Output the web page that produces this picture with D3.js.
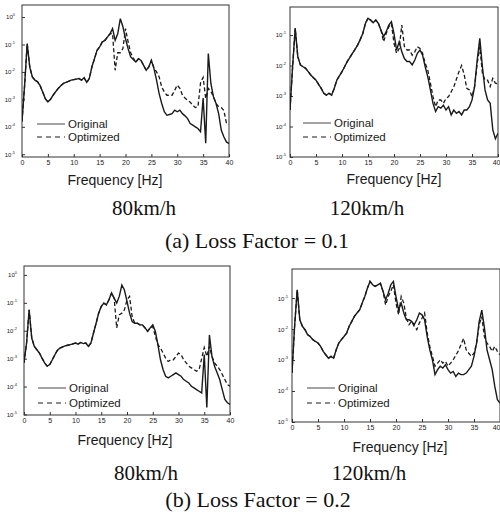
<!DOCTYPE html>
<html>
<head>
<meta charset="utf-8">
<script src="https://cdn.jsdelivr.net/npm/d3@7"></script>
<style>
  body { margin: 0; background: #fff; }
  svg { display: block; }
</style>
</head>
<body>
<div id="chart"></div>
<script>
// frequency grid [Hz], shared by all four panels
var freq = [0,0.5,1,1.5,2,2.5,3,3.5,4,4.5,5,5.5,6,6.5,7,7.5,8,8.5,9,9.5,
  10,10.5,11,11.5,12,12.5,13,13.5,14,14.5,15,15.5,16,16.5,17,17.5,18,18.5,19,19.5,
  20,20.5,21,21.5,22,22.5,23,23.5,24,24.5,25,25.5,26,26.5,27,27.5,28,28.5,29,29.5,
  30,30.5,31,31.5,32,32.5,33,33.5,34,34.5,35,35.5,36,36.5,37,37.5,38,38.5,39,39.5,40];
var xTicks = [0,5,10,15,20,25,30,35,40];

// response levels, log10 of amplitude
// (a) loss factor 0.1, 80km/h
var orig80a = [-3.8,-2.5,-0.97,-1.82,-2.18,-2.3,-2.36,-2.5,-2.73,-2.97,-3.09,-3.0,-2.85,-2.72,-2.6,-2.5,-2.42,-2.38,-2.34,-2.3,
  -2.28,-2.26,-2.24,-2.3,-2.21,-2.38,-2.24,-1.82,-1.52,-1.21,-1.09,-0.91,-0.85,-0.73,-0.61,-0.42,-0.85,-0.61,-0.06,-0.35,
  -0.79,-1.15,-1.45,-1.55,-1.64,-1.52,-1.58,-1.76,-1.94,-1.82,-1.58,-1.88,-2.3,-2.79,-3.15,-3.45,-3.58,-3.55,-3.52,-3.39,
  -3.45,-3.39,-3.52,-3.6,-3.7,-3.88,-3.94,-4.0,-4.06,-4.18,-2.95,-4.6,-1.33,-2.42,-2.91,-3.15,-3.52,-4.12,-4.36,-4.55,-4.61];
var opt80a = [-3.8,-2.5,-0.97,-1.82,-2.18,-2.3,-2.36,-2.5,-2.73,-2.97,-3.09,-3.0,-2.85,-2.72,-2.6,-2.5,-2.42,-2.38,-2.34,-2.3,
  -2.28,-2.26,-2.24,-2.3,-2.21,-2.38,-2.24,-1.82,-1.52,-1.21,-1.09,-0.91,-0.85,-0.73,-0.61,-0.6,-1.94,-1.3,-1.3,-1.15,
  -0.42,-0.9,-1.3,-1.5,-1.64,-1.52,-1.58,-1.76,-1.94,-1.82,-1.58,-1.85,-2.0,-2.18,-2.55,-2.73,-2.85,-2.85,-2.85,-2.67,
  -2.48,-2.6,-2.85,-2.95,-3.03,-3.1,-3.21,-3.3,-3.27,-2.4,-2.2,-2.97,-2.6,-2.7,-2.91,-3.15,-3.27,-3.3,-3.4,-3.86,-3.9];
// (a) loss factor 0.1, 120km/h
var orig120a = [-3.46,-2.04,-0.78,-1.71,-1.98,-2.04,-2.09,-2.2,-2.31,-2.4,-2.48,-2.62,-2.75,-2.91,-2.97,-2.91,-2.97,-2.75,-2.48,-2.34,
  -2.2,-2.04,-1.87,-1.74,-1.6,-1.47,-1.33,-1.15,-0.95,-0.62,-0.45,-0.51,-0.6,-0.51,-0.62,-0.84,-1.05,-0.89,-0.67,-0.56,
  -0.95,-1.49,-1.22,-1.55,-1.77,-1.87,-1.87,-1.98,-1.82,-1.6,-1.49,-1.66,-2.04,-2.37,-2.8,-3.24,-3.51,-3.35,-3.4,-3.3,
  -3.46,-3.35,-3.62,-3.46,-3.57,-3.51,-3.62,-3.46,-3.46,-3.35,-3.13,-2.69,-1.82,-1.11,-2.04,-2.8,-3.13,-3.24,-4.11,-4.4,-4.22];
var opt120a = [-3.46,-2.04,-0.78,-1.71,-1.98,-2.04,-2.09,-2.2,-2.31,-2.4,-2.48,-2.62,-2.75,-2.91,-2.97,-2.91,-2.97,-2.75,-2.48,-2.34,
  -2.2,-2.04,-1.87,-1.74,-1.6,-1.47,-1.33,-1.15,-0.95,-0.62,-0.45,-0.51,-0.6,-0.51,-0.62,-0.84,-1.22,-0.95,-0.73,-0.62,
  -1.27,-1.6,-1.44,-0.67,-1.38,-1.49,-1.49,-1.66,-1.55,-1.38,-1.44,-1.6,-1.93,-2.15,-2.58,-3.02,-3.35,-3.13,-3.13,-3.24,
  -3.08,-3.02,-2.86,-2.7,-2.45,-2.2,-2.0,-2.3,-2.75,-2.8,-3.02,-2.69,-1.93,-1.38,-2.26,-2.48,-2.48,-2.69,-2.42,-2.58,-2.6];
// (b) loss factor 0.2, 80km/h
var orig80b = [-3.15,-2.44,-1.25,-2.26,-2.56,-2.68,-2.8,-2.98,-3.15,-3.27,-3.21,-3.04,-2.86,-2.7,-2.62,-2.58,-2.54,-2.52,-2.5,-2.47,
  -2.44,-2.48,-2.42,-2.46,-2.44,-2.56,-2.44,-2.08,-1.73,-1.37,-1.13,-1.01,-1.07,-0.89,-0.65,-0.83,-1.01,-0.77,-0.36,-0.54,
  -0.95,-1.37,-1.67,-1.73,-1.73,-1.79,-1.79,-1.9,-2.02,-1.9,-1.79,-2.02,-2.5,-3.04,-3.39,-3.63,-3.69,-3.63,-3.57,-3.51,
  -3.57,-3.63,-3.75,-3.81,-3.87,-3.99,-4.05,-4.11,-4.17,-4.23,-2.85,-4.75,-2.15,-2.92,-3.27,-3.51,-3.75,-4.11,-4.46,-4.58,-4.64];
var opt80b = [-3.15,-2.44,-1.25,-2.26,-2.56,-2.68,-2.8,-2.98,-3.15,-3.27,-3.21,-3.04,-2.86,-2.7,-2.62,-2.58,-2.54,-2.52,-2.5,-2.47,
  -2.44,-2.48,-2.42,-2.46,-2.44,-2.56,-2.44,-2.08,-1.73,-1.37,-1.13,-1.01,-1.07,-0.89,-0.65,-0.83,-1.9,-1.43,-1.37,-1.25,
  -0.89,-0.77,-1.49,-1.73,-1.73,-1.79,-1.79,-1.9,-2.02,-1.9,-1.85,-2.2,-2.5,-2.62,-2.8,-2.98,-3.1,-3.04,-3.04,-2.92,
  -2.8,-2.86,-3.04,-3.15,-3.27,-3.33,-3.39,-3.45,-3.39,-3.0,-2.6,-2.92,-2.56,-2.92,-3.15,-3.27,-3.39,-3.57,-3.75,-3.93,-3.99];
// (b) loss factor 0.2, 120km/h
var orig120b = [-3.42,-1.91,-0.73,-1.7,-1.91,-2.02,-2.18,-2.24,-2.34,-2.4,-2.45,-2.56,-2.72,-2.83,-2.94,-2.88,-2.94,-2.67,-2.45,-2.34,
  -2.24,-2.13,-1.91,-1.75,-1.59,-1.48,-1.38,-1.16,-0.95,-0.68,-0.46,-0.57,-0.62,-0.57,-0.52,-0.78,-1.05,-0.84,-0.57,-0.46,
  -0.95,-1.38,-1.16,-1.48,-1.7,-1.7,-1.75,-1.86,-1.7,-1.48,-1.54,-1.7,-2.24,-2.67,-2.99,-3.47,-3.31,-3.2,-3.26,-3.15,
  -3.31,-3.42,-3.37,-3.53,-3.42,-3.47,-3.47,-3.42,-3.31,-3.2,-2.88,-2.45,-1.75,-1.39,-1.95,-2.67,-2.99,-3.31,-3.85,-4.28,-4.39];
var opt120b = [-3.42,-1.91,-0.73,-1.7,-1.91,-2.02,-2.18,-2.24,-2.34,-2.4,-2.45,-2.56,-2.72,-2.83,-2.94,-2.88,-2.94,-2.67,-2.45,-2.34,
  -2.24,-2.13,-1.91,-1.75,-1.59,-1.48,-1.38,-1.16,-0.95,-0.68,-0.46,-0.57,-0.62,-0.57,-0.52,-0.78,-1.22,-0.95,-0.78,-0.57,
  -1.16,-1.54,-0.95,-1.16,-1.65,-1.86,-1.75,-1.91,-2.02,-1.8,-1.65,-1.48,-2.13,-2.56,-2.88,-3.2,-3.1,-2.99,-3.1,-3.04,
  -3.2,-3.1,-2.99,-2.85,-2.7,-2.5,-2.3,-2.67,-2.78,-2.88,-2.78,-2.45,-1.85,-1.6,-2.24,-2.45,-2.56,-2.72,-2.56,-2.72,-2.83];

var seriesNames = ["Original", "Optimized"];
var speedLabels = ["80km/h", "120km/h"];
var captions = ["(a) Loss Factor = 0.1", "(b) Loss Factor = 0.2"];

var W = 500, H = 522;
var svg = d3.select("#chart").append("svg")
    .attr("width", W)
    .attr("height", H);

// panel layout (pixel boxes) and log-axis ranges
var panels = [
  {orig: orig80a,  opt: opt80a,  x0: 22,  x1: 229, top: 5,   bottom: 157, lo: -5.1,  hi: 0.44,
   exps: [0,-1,-2,-3,-4,-5], ylab: 7, leg: {x: 37, y: 124, dy: 13}, title: {x: 115, y: 185}},
  {orig: orig120a, opt: opt120a, x0: 290, x1: 498, top: 7,   bottom: 157, lo: -5.0,  hi: -0.08,
   exps: [-1,-2,-3,-4,-5], ylab: 4, leg: {x: 303, y: 123, dy: 14}, title: {x: 394, y: 184}},
  {orig: orig80b,  opt: opt80b,  x0: 24,  x1: 230, top: 266, bottom: 415, lo: -5.02, hi: 0.32,
   exps: [0,-1,-2,-3,-4,-5], ylab: 7, leg: {x: 38, y: 388, dy: 15}, title: {x: 125, y: 445}},
  {orig: orig120b, opt: opt120b, x0: 292, x1: 500, top: 269, bottom: 422, lo: -5.0,  hi: -0.06,
   exps: [-1,-2,-3,-4,-5], ylab: 4, leg: {x: 307, y: 388, dy: 15}, title: {x: 400, y: 452}}
];

var ink = "#1a1a1a";

panels.forEach(function(p, i) {
  var x = d3.scaleLinear().domain([0, 40]).range([p.x0, p.x1]);
  var y = d3.scaleLog().domain([Math.pow(10, p.lo), Math.pow(10, p.hi)]).range([p.bottom, p.top]);
  var g = svg.append("g");

  // frame
  g.append("rect")
    .attr("x", p.x0).attr("y", p.top)
    .attr("width", p.x1 - p.x0).attr("height", p.bottom - p.top)
    .attr("fill", "none").attr("stroke", "#333").attr("stroke-width", 1);

  // x axis
  var xa = g.append("g")
    .attr("transform", "translate(0," + p.bottom + ")")
    .call(d3.axisBottom(x).tickValues(xTicks).tickSize(-3).tickPadding(3));
  xa.select(".domain").remove();
  xa.selectAll("line").attr("stroke", "#333");
  xa.selectAll("text").attr("font-family", "Liberation Sans, Arial, sans-serif")
    .attr("font-size", 7).attr("fill", ink);
  // last label sits at the page edge on the right-hand panels
  if (p.x1 > W - 6) {
    xa.selectAll(".tick text").filter(function(d) { return d === 40; })
      .attr("text-anchor", "end").attr("x", W - p.x1);
  }

  // y axis, decade ticks
  var ya = g.append("g")
    .attr("transform", "translate(" + p.x0 + ",0)")
    .call(d3.axisLeft(y).tickValues(p.exps.map(function(e) { return Math.pow(10, e); }))
      .tickSize(-3).tickPadding(p.ylab));
  ya.select(".domain").remove();
  ya.selectAll("line").attr("stroke", "#333");
  ya.selectAll(".tick text")
    .attr("font-family", "Liberation Sans, Arial, sans-serif")
    .attr("font-size", 6).attr("fill", ink)
    .text("10")
    .append("tspan")
      .attr("dy", -3).attr("font-size", 4)
      .text(function(d) { var e = Math.round(Math.log10(d)); return e === 0 ? "0" : e; });

  // curves
  var clipId = "clip" + i;
  g.append("clipPath").attr("id", clipId).append("rect")
    .attr("x", p.x0).attr("y", p.top)
    .attr("width", p.x1 - p.x0).attr("height", p.bottom - p.top);

  var line = function(vals) {
    return d3.line()
      .x(function(d, k) { return x(freq[k]); })
      .y(function(d) { return y(Math.pow(10, d)); })(vals);
  };

  g.append("path")
    .attr("clip-path", "url(#" + clipId + ")")
    .attr("d", line(p.opt))
    .attr("fill", "none").attr("stroke", ink)
    .attr("stroke-width", 1.3).attr("stroke-dasharray", "4,2.5");
  g.append("path")
    .attr("clip-path", "url(#" + clipId + ")")
    .attr("d", line(p.orig))
    .attr("fill", "none").attr("stroke", ink)
    .attr("stroke-width", 1.4);

  // legend
  seriesNames.forEach(function(name, k) {
    var ly = p.leg.y + k * p.leg.dy;
    g.append("line")
      .attr("x1", p.leg.x).attr("x2", p.leg.x + 28)
      .attr("y1", ly).attr("y2", ly)
      .attr("stroke", ink).attr("stroke-width", k === 0 ? 0.8 : 1.2)
      .attr("stroke-dasharray", k === 0 ? null : "5,4");
    g.append("text")
      .attr("x", p.leg.x + 31).attr("y", ly + 4)
      .attr("font-family", "Liberation Sans, Arial, sans-serif")
      .attr("font-size", 11.5).attr("fill", ink)
      .text(name);
  });

  // axis title
  g.append("text")
    .attr("x", p.title.x).attr("y", p.title.y)
    .attr("text-anchor", "middle")
    .attr("font-family", "Liberation Sans, Arial, sans-serif")
    .attr("font-size", 14).attr("fill", ink)
    .text("Frequency [Hz]");
});

// speed labels and captions (serif)
var serif = "Liberation Serif, Times New Roman, serif";
var speedPos = [[144, 215], [367, 215], [146, 480], [369, 480]];
speedPos.forEach(function(sp, i) {
  svg.append("text")
    .attr("x", sp[0]).attr("y", sp[1])
    .attr("text-anchor", "middle")
    .attr("font-family", serif).attr("font-size", 21).attr("fill", "#111")
    .text(speedLabels[i % 2]);
});
var capPos = [[257, 248], [258, 507]];
capPos.forEach(function(cp, i) {
  svg.append("text")
    .attr("x", cp[0]).attr("y", cp[1])
    .attr("text-anchor", "middle")
    .attr("font-family", serif).attr("font-size", 22).attr("fill", "#111")
    .text(captions[i]);
});
</script>
</body>
</html>
